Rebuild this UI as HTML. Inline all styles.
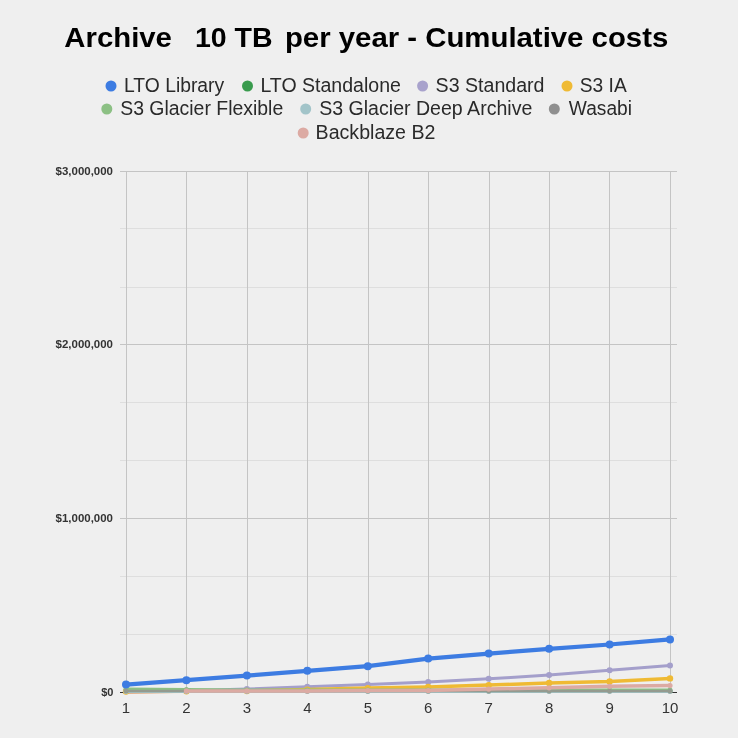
<!DOCTYPE html>
<html><head><meta charset="utf-8"><title>Archive 10 TB per year - Cumulative costs</title>
<style>
html,body{margin:0;padding:0;background:#efefef;}
svg{display:block;}
.wrap{filter:blur(0.3px);width:738px;height:738px;}
text{font-family:"Liberation Sans",Arial,Helvetica,sans-serif;}
</style></head><body><div class="wrap">
<svg width="738" height="738" viewBox="0 0 738 738">
<rect width="738" height="738" fill="#efefef"/>

<line x1="120" y1="228.5" x2="677" y2="228.5" stroke="#dedede" stroke-width="1"/>
<line x1="120" y1="287.5" x2="677" y2="287.5" stroke="#dedede" stroke-width="1"/>
<line x1="120" y1="402.5" x2="677" y2="402.5" stroke="#dedede" stroke-width="1"/>
<line x1="120" y1="460.5" x2="677" y2="460.5" stroke="#dedede" stroke-width="1"/>
<line x1="120" y1="576.5" x2="677" y2="576.5" stroke="#dedede" stroke-width="1"/>
<line x1="120" y1="634.5" x2="677" y2="634.5" stroke="#dedede" stroke-width="1"/>
<line x1="120" y1="171.5" x2="677" y2="171.5" stroke="#c4c4c4" stroke-width="1"/>
<line x1="120" y1="344.5" x2="677" y2="344.5" stroke="#c4c4c4" stroke-width="1"/>
<line x1="120" y1="518.5" x2="677" y2="518.5" stroke="#c4c4c4" stroke-width="1"/>
<line x1="126.5" y1="171.0" x2="126.5" y2="692.0" stroke="#c4c4c4" stroke-width="1"/>
<line x1="186.5" y1="171.0" x2="186.5" y2="692.0" stroke="#c4c4c4" stroke-width="1"/>
<line x1="247.5" y1="171.0" x2="247.5" y2="692.0" stroke="#c4c4c4" stroke-width="1"/>
<line x1="307.5" y1="171.0" x2="307.5" y2="692.0" stroke="#c4c4c4" stroke-width="1"/>
<line x1="368.5" y1="171.0" x2="368.5" y2="692.0" stroke="#c4c4c4" stroke-width="1"/>
<line x1="428.5" y1="171.0" x2="428.5" y2="692.0" stroke="#c4c4c4" stroke-width="1"/>
<line x1="489.5" y1="171.0" x2="489.5" y2="692.0" stroke="#c4c4c4" stroke-width="1"/>
<line x1="549.5" y1="171.0" x2="549.5" y2="692.0" stroke="#c4c4c4" stroke-width="1"/>
<line x1="609.5" y1="171.0" x2="609.5" y2="692.0" stroke="#c4c4c4" stroke-width="1"/>
<line x1="670.5" y1="171.0" x2="670.5" y2="692.0" stroke="#c4c4c4" stroke-width="1"/>
<line x1="120" y1="692.5" x2="677" y2="692.5" stroke="#333" stroke-width="1"/>
<polyline points="126.0,692.6 186.4,691.2" fill="none" stroke="#dcaaa3" stroke-width="3"/>
<polyline points="126.0,691.0 186.4,691.0 246.9,691.0 307.3,691.0 367.8,691.0 428.2,691.0 488.7,691.0 549.1,691.0 609.6,691.0 670.0,691.0" fill="none" stroke="#399b4d" stroke-width="3" stroke-linejoin="round" stroke-linecap="round"/>
<circle cx="126.0" cy="691.0" r="2.5" fill="#399b4d"/>
<circle cx="186.4" cy="691.0" r="2.5" fill="#399b4d"/>
<circle cx="246.9" cy="691.0" r="2.5" fill="#399b4d"/>
<circle cx="307.3" cy="691.0" r="2.5" fill="#399b4d"/>
<circle cx="367.8" cy="691.0" r="2.5" fill="#399b4d"/>
<circle cx="428.2" cy="691.0" r="2.5" fill="#399b4d"/>
<circle cx="488.7" cy="691.0" r="2.5" fill="#399b4d"/>
<circle cx="549.1" cy="691.0" r="2.5" fill="#399b4d"/>
<circle cx="609.6" cy="691.0" r="2.5" fill="#399b4d"/>
<circle cx="670.0" cy="691.0" r="2.5" fill="#399b4d"/>
<polyline points="126.0,691.3 186.4,690.8 246.9,689.0 307.3,686.8 367.8,684.6 428.2,682.1 488.7,678.8 549.1,675.0 609.6,670.2 670.0,665.6" fill="none" stroke="#a49fcb" stroke-width="3" stroke-linejoin="round" stroke-linecap="round"/>
<circle cx="126.0" cy="691.3" r="3.0" fill="#a49fcb"/>
<circle cx="186.4" cy="690.8" r="3.0" fill="#a49fcb"/>
<circle cx="246.9" cy="689.0" r="3.0" fill="#a49fcb"/>
<circle cx="307.3" cy="686.8" r="3.0" fill="#a49fcb"/>
<circle cx="367.8" cy="684.6" r="3.0" fill="#a49fcb"/>
<circle cx="428.2" cy="682.1" r="3.0" fill="#a49fcb"/>
<circle cx="488.7" cy="678.8" r="3.0" fill="#a49fcb"/>
<circle cx="549.1" cy="675.0" r="3.0" fill="#a49fcb"/>
<circle cx="609.6" cy="670.2" r="3.0" fill="#a49fcb"/>
<circle cx="670.0" cy="665.6" r="3.0" fill="#a49fcb"/>
<polyline points="126.0,691.5 186.4,691.3 246.9,691.0 307.3,689.6 367.8,688.1 428.2,687.0 488.7,685.1 549.1,683.0 609.6,681.4 670.0,678.4" fill="none" stroke="#efba34" stroke-width="3.5" stroke-linejoin="round" stroke-linecap="round"/>
<circle cx="126.0" cy="691.5" r="3.2" fill="#efba34"/>
<circle cx="186.4" cy="691.3" r="3.2" fill="#efba34"/>
<circle cx="246.9" cy="691.0" r="3.2" fill="#efba34"/>
<circle cx="307.3" cy="689.6" r="3.2" fill="#efba34"/>
<circle cx="367.8" cy="688.1" r="3.2" fill="#efba34"/>
<circle cx="428.2" cy="687.0" r="3.2" fill="#efba34"/>
<circle cx="488.7" cy="685.1" r="3.2" fill="#efba34"/>
<circle cx="549.1" cy="683.0" r="3.2" fill="#efba34"/>
<circle cx="609.6" cy="681.4" r="3.2" fill="#efba34"/>
<circle cx="670.0" cy="678.4" r="3.2" fill="#efba34"/>
<polyline points="126.0,689.0 186.4,689.6 246.9,690.1 307.3,690.1 367.8,690.1 428.2,690.1 488.7,690.1 549.1,690.1 609.6,690.1 670.0,690.1" fill="none" stroke="#8cc084" stroke-width="3.0" stroke-linejoin="round" stroke-linecap="round"/>
<circle cx="126.0" cy="689.0" r="2.5" fill="#8cc084"/>
<circle cx="186.4" cy="689.6" r="2.5" fill="#8cc084"/>
<circle cx="246.9" cy="690.1" r="2.5" fill="#8cc084"/>
<circle cx="307.3" cy="690.1" r="2.5" fill="#8cc084"/>
<circle cx="367.8" cy="690.1" r="2.5" fill="#8cc084"/>
<circle cx="428.2" cy="690.1" r="2.5" fill="#8cc084"/>
<circle cx="488.7" cy="690.1" r="2.5" fill="#8cc084"/>
<circle cx="549.1" cy="690.1" r="2.5" fill="#8cc084"/>
<circle cx="609.6" cy="690.1" r="2.5" fill="#8cc084"/>
<circle cx="670.0" cy="690.1" r="2.5" fill="#8cc084"/>
<polyline points="126.0,691.6 186.4,691.6 246.9,691.6 307.3,691.6 367.8,691.6 428.2,691.6 488.7,691.6 549.1,691.6 609.6,691.6 670.0,691.6" fill="none" stroke="#a2c4c9" stroke-width="3" stroke-linejoin="round" stroke-linecap="round"/>
<circle cx="126.0" cy="691.6" r="2.5" fill="#a2c4c9"/>
<circle cx="186.4" cy="691.6" r="2.5" fill="#a2c4c9"/>
<circle cx="246.9" cy="691.6" r="2.5" fill="#a2c4c9"/>
<circle cx="307.3" cy="691.6" r="2.5" fill="#a2c4c9"/>
<circle cx="367.8" cy="691.6" r="2.5" fill="#a2c4c9"/>
<circle cx="428.2" cy="691.6" r="2.5" fill="#a2c4c9"/>
<circle cx="488.7" cy="691.6" r="2.5" fill="#a2c4c9"/>
<circle cx="549.1" cy="691.6" r="2.5" fill="#a2c4c9"/>
<circle cx="609.6" cy="691.6" r="2.5" fill="#a2c4c9"/>
<circle cx="670.0" cy="691.6" r="2.5" fill="#a2c4c9"/>
<polyline points="126.0,690.9 186.4,690.9 246.9,690.9 307.3,690.9 367.8,690.9 428.2,690.9 488.7,690.9 549.1,690.9 609.6,690.9 670.0,690.9" fill="none" stroke="#949a8f" stroke-width="2.5" stroke-linejoin="round" stroke-linecap="round"/>
<circle cx="126.0" cy="690.9" r="2.5" fill="#949a8f"/>
<circle cx="186.4" cy="690.9" r="2.5" fill="#949a8f"/>
<circle cx="246.9" cy="690.9" r="2.5" fill="#949a8f"/>
<circle cx="307.3" cy="690.9" r="2.5" fill="#949a8f"/>
<circle cx="367.8" cy="690.9" r="2.5" fill="#949a8f"/>
<circle cx="428.2" cy="690.9" r="2.5" fill="#949a8f"/>
<circle cx="488.7" cy="690.9" r="2.5" fill="#949a8f"/>
<circle cx="549.1" cy="690.9" r="2.5" fill="#949a8f"/>
<circle cx="609.6" cy="690.9" r="2.5" fill="#949a8f"/>
<circle cx="670.0" cy="690.9" r="2.5" fill="#949a8f"/>
<polyline points="186.4,690.9 246.9,690.9 307.3,691.0 367.8,690.6 428.2,690.6 488.7,689.1 549.1,687.8 609.6,686.3 670.0,685.5" fill="none" stroke="#dcaaa3" stroke-width="3.5" stroke-linejoin="round" stroke-linecap="round"/>
<circle cx="186.4" cy="690.9" r="2.6" fill="#dcaaa3"/>
<circle cx="246.9" cy="690.9" r="2.6" fill="#dcaaa3"/>
<circle cx="307.3" cy="691.0" r="2.6" fill="#dcaaa3"/>
<circle cx="367.8" cy="690.6" r="2.6" fill="#dcaaa3"/>
<circle cx="428.2" cy="690.6" r="2.6" fill="#dcaaa3"/>
<circle cx="488.7" cy="689.1" r="2.6" fill="#dcaaa3"/>
<circle cx="549.1" cy="687.8" r="2.6" fill="#dcaaa3"/>
<circle cx="609.6" cy="686.3" r="2.6" fill="#dcaaa3"/>
<circle cx="670.0" cy="685.5" r="2.6" fill="#dcaaa3"/>
<polyline points="126.0,684.6 186.4,680.2 246.9,675.6 307.3,670.8 367.8,666.2 428.2,658.6 488.7,653.6 549.1,648.8 609.6,644.5 670.0,639.4" fill="none" stroke="#3d7ce2" stroke-width="4.2" stroke-linejoin="round" stroke-linecap="round"/>
<circle cx="126.0" cy="684.6" r="4.0" fill="#3d7ce2"/>
<circle cx="186.4" cy="680.2" r="4.0" fill="#3d7ce2"/>
<circle cx="246.9" cy="675.6" r="4.0" fill="#3d7ce2"/>
<circle cx="307.3" cy="670.8" r="4.0" fill="#3d7ce2"/>
<circle cx="367.8" cy="666.2" r="4.0" fill="#3d7ce2"/>
<circle cx="428.2" cy="658.6" r="4.0" fill="#3d7ce2"/>
<circle cx="488.7" cy="653.6" r="4.0" fill="#3d7ce2"/>
<circle cx="549.1" cy="648.8" r="4.0" fill="#3d7ce2"/>
<circle cx="609.6" cy="644.5" r="4.0" fill="#3d7ce2"/>
<circle cx="670.0" cy="639.4" r="4.0" fill="#3d7ce2"/>
<circle cx="111" cy="86" r="5.5" fill="#3d7ce2"/>
<circle cx="247.5" cy="86" r="5.5" fill="#399b4d"/>
<circle cx="422.6" cy="86" r="5.5" fill="#a8a2cc"/>
<circle cx="567" cy="86" r="5.5" fill="#efba34"/>
<circle cx="106.8" cy="109" r="5.5" fill="#8cc084"/>
<circle cx="305.7" cy="109" r="5.5" fill="#a2c4c9"/>
<circle cx="554.3" cy="109" r="5.5" fill="#8f8f8f"/>
<circle cx="303.2" cy="133" r="5.5" fill="#dcaaa3"/>
<text id="t1" font-size="28.5" font-weight="bold" fill="#000" x="64.38" y="46.7" textLength="107.51" lengthAdjust="spacingAndGlyphs">Archive</text>
<text id="t2" font-size="28.5" font-weight="bold" fill="#000" x="195.00" y="46.7" textLength="77.62" lengthAdjust="spacingAndGlyphs">10 TB</text>
<text id="t3" font-size="28.5" font-weight="bold" fill="#000" x="284.94" y="46.7" textLength="383.33" lengthAdjust="spacingAndGlyphs">per year - Cumulative costs</text>
<text id="l1" font-size="19.5" font-weight="normal" fill="#2a2a2a" x="124.02" y="91.5" textLength="100.14" lengthAdjust="spacingAndGlyphs">LTO Library</text>
<text id="l2" font-size="19.5" font-weight="normal" fill="#2a2a2a" x="260.40" y="91.5" textLength="140.52" lengthAdjust="spacingAndGlyphs">LTO Standalone</text>
<text id="l3" font-size="19.5" font-weight="normal" fill="#2a2a2a" x="435.59" y="91.5" textLength="108.93" lengthAdjust="spacingAndGlyphs">S3 Standard</text>
<text id="l4" font-size="19.5" font-weight="normal" fill="#2a2a2a" x="579.81" y="91.5" textLength="46.89" lengthAdjust="spacingAndGlyphs">S3 IA</text>
<text id="l5" font-size="19.5" font-weight="normal" fill="#2a2a2a" x="120.20" y="114.6" textLength="163.05" lengthAdjust="spacingAndGlyphs">S3 Glacier Flexible</text>
<text id="l6" font-size="19.5" font-weight="normal" fill="#2a2a2a" x="319.20" y="114.6" textLength="213.14" lengthAdjust="spacingAndGlyphs">S3 Glacier Deep Archive</text>
<text id="l7" font-size="19.5" font-weight="normal" fill="#2a2a2a" x="568.79" y="114.6" textLength="63.21" lengthAdjust="spacingAndGlyphs">Wasabi</text>
<text id="l8" font-size="19.5" font-weight="normal" fill="#2a2a2a" x="315.59" y="138.8" textLength="119.86" lengthAdjust="spacingAndGlyphs">Backblaze B2</text>
<text id="y3" font-size="11" font-weight="bold" fill="#333333" x="55.59" y="174.6" textLength="57.37" lengthAdjust="spacingAndGlyphs">$3,000,000</text>
<text id="y2" font-size="11" font-weight="bold" fill="#333333" x="55.59" y="348.26666666666665" textLength="57.37" lengthAdjust="spacingAndGlyphs">$2,000,000</text>
<text id="y1" font-size="11" font-weight="bold" fill="#333333" x="55.59" y="521.9333333333333" textLength="57.37" lengthAdjust="spacingAndGlyphs">$1,000,000</text>
<text id="y0" font-size="11" font-weight="bold" fill="#333333" x="101.20" y="695.6" textLength="12.25" lengthAdjust="spacingAndGlyphs">$0</text>
<g font-size="15" fill="#333" text-anchor="middle">
<text x="126.0" y="712.5">1</text>
<text x="186.4" y="712.5">2</text>
<text x="246.9" y="712.5">3</text>
<text x="307.3" y="712.5">4</text>
<text x="367.8" y="712.5">5</text>
<text x="428.2" y="712.5">6</text>
<text x="488.7" y="712.5">7</text>
<text x="549.1" y="712.5">8</text>
<text x="609.6" y="712.5">9</text>
<text x="670.0" y="712.5">10</text>
</g>
</svg></div></body></html>
